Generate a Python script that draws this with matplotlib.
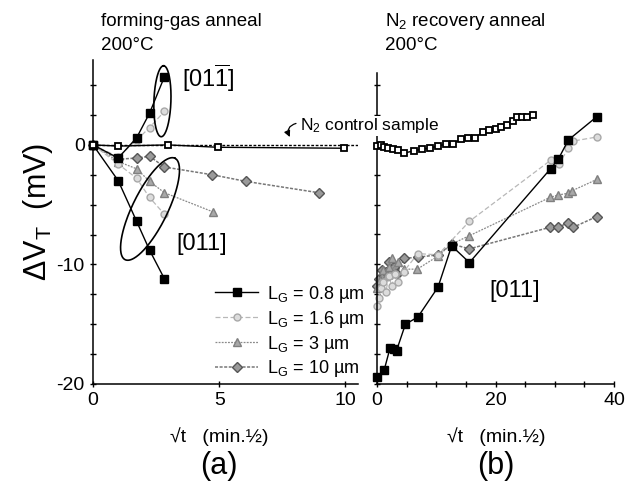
import matplotlib.pyplot as plt
import numpy as np
from matplotlib.ticker import MultipleLocator, FixedLocator

plt.rcParams['font.family'] = ['Liberation Sans', 'DejaVu Sans']
plt.rcParams['mathtext.fontset'] = 'custom'
plt.rcParams['mathtext.rm'] = 'Liberation Sans'
plt.rcParams['mathtext.it'] = 'Liberation Sans:italic'
plt.rcParams['mathtext.bf'] = 'Liberation Sans:bold'
plt.rcParams['axes.unicode_minus'] = False

# ---- (a) forming-gas anneal, x = sqrt(t) in min^1/2
fg_x = [0, 1.0, 1.73, 2.24, 2.83]
fg_08_bar = [0, -1.1, 0.6, 2.65, 5.7]      # [01-1]
fg_16_bar = [0, -1.0, 0.4, 1.45, 2.8]      # [01-1]
fg_08 = [0, -3.0, -6.4, -8.8, -11.2]       # [011]
fg_16 = [0, -1.6, -2.8, -4.4, -5.8]        # [011]
fg_x3 = [0, 1.0, 1.73, 2.24, 2.83, 4.75]
fg_3 = [0, -1.4, -2.0, -3.05, -4.0, -5.6]
fg_x10 = [0, 1.0, 1.73, 2.24, 2.83, 4.73, 6.05, 8.94]
fg_10 = [0, -1.2, -1.1, -0.95, -1.85, -2.5, -3.05, -4.0]
fg_xn2 = [0, 1.0, 2.96, 4.95, 9.93]
fg_n2 = [0, -0.1, 0, -0.2, -0.28]

# ---- (b) N2 recovery anneal
rc_xn2 = [0, 0.6, 1.1, 1.9, 2.7, 3.6, 4.6, 6.2, 7.6, 8.9, 10.3, 11.6, 12.9, 14.2,
          15.4, 16.6, 17.9, 18.9, 20.0, 21.0, 21.9, 22.9, 23.7, 24.5, 25.3, 26.3]
rc_n2 = [-0.1, -0.05, -0.15, -0.3, -0.35, -0.45, -0.7, -0.5, -0.36, -0.28, -0.1, 0.05,
         0.1, 0.5, 0.55, 0.6, 1.1, 1.2, 1.3, 1.45, 1.65, 1.95, 2.3, 2.35, 2.35, 2.5]
rc_x08 = [0, 1.2, 2.2, 2.9, 3.3, 4.8, 6.9, 10.3, 12.6, 15.6, 29.3, 30.6, 32.3, 37.1]
rc_08 = [-19.4, -18.85, -17.0, -17.1, -17.2, -15.0, -14.4, -11.9, -8.45, -9.85,
         -2.0, -1.2, 0.4, 2.35]
rc_x16 = [0, 0.3, 0.6, 1.0, 1.5, 2.0, 2.5, 3.0, 3.5, 4.5, 6.9, 10.3, 15.6,
          29.3, 30.7, 32.3, 33.0, 37.1]
rc_16 = [-13.5, -12.8, -12.0, -11.5, -12.3, -11.0, -11.8, -10.8, -11.5, -10.6,
         -9.1, -9.2, -6.4, -1.3, -1.6, -0.3, 0.3, 0.65]
rc_x3 = [0, 0.5, 1.0, 1.5, 2.0, 2.5, 3.0, 3.5, 4.5, 6.8, 10.3, 12.6, 15.6,
         29.2, 30.6, 32.3, 32.9, 37.1]
rc_3 = [-12.0, -11.3, -10.5, -11.0, -10.2, -9.5, -10.7, -9.8, -10.4, -10.4,
        -9.3, -8.3, -7.6, -4.4, -4.2, -4.05, -3.85, -2.9]
rc_x10 = [0, 0.4, 0.8, 1.2, 1.6, 2.0, 2.4, 2.9, 3.3, 4.6, 6.9, 10.3, 12.6, 15.6,
          29.2, 30.6, 32.3, 33.1, 37.1]
rc_10 = [-11.8, -11.2, -10.5, -11.0, -10.6, -9.8, -10.8, -10.2, -10.8, -9.5,
         -9.4, -9.2, -8.3, -8.7, -6.9, -6.9, -6.5, -6.9, -6.0]

labels = [r'L$_\mathrm{G}$ = 0.8 µm', r'L$_\mathrm{G}$ = 1.6 µm',
          r'L$_\mathrm{G}$ = 3 µm', r'L$_\mathrm{G}$ = 10 µm']

# series styles
s08 = dict(color='black', lw=1.0, ls='-', marker='s', ms=5.5, mfc='black', mec='black')
s16 = dict(color='#b8b8b8', lw=0.9, ls=(0, (4, 2)), marker='o', ms=5, mfc='#dcdcdc', mec='#a8a8a8')
s3 = dict(color='#8a8a8a', lw=0.9, ls=(0, (1.5, 1)), marker='^', ms=5.5, mfc='#a8a8a8', mec='#808080')
s10 = dict(color='#777777', lw=1.1, ls=(0, (2, 1)), marker='D', ms=5, mfc='#9a9a9a', mec='#555555')
sn2 = dict(color='black', lw=1.0, ls='-', marker='s', ms=5, mfc='white', mec='black', mew=1.3)

W, H = 628, 491
fig = plt.figure(figsize=(W / 100, H / 100), dpi=100)
ax1 = fig.add_axes([93 / W, 1 - 384 / H, (358 - 93) / W, (384 - 60) / H])
ax2 = fig.add_axes([377 / W, 1 - 384 / H, (614 - 377) / W, (384 - 73) / H])

ax1.set_xlim(0, 10.5)
ax1.set_ylim(-20, 7.1)
ax2.set_xlim(0, 40)
ax2.set_ylim(-20, 6.0)

ax1.axhline(0, color='black', lw=1.0, ls=(0, (2, 1.2)), zorder=1)
ax1.plot(fg_xn2, fg_n2, **sn2, clip_on=False, zorder=3)
ax1.plot(fg_x10, fg_10, **s10, clip_on=False)
ax1.plot(fg_x3, fg_3, **s3, clip_on=False)
ax1.plot(fg_x, fg_16, **s16, clip_on=False)
ax1.plot(fg_x, fg_16_bar, **s16, clip_on=False)
ax1.plot(fg_x, fg_08, **s08, clip_on=False)
ax1.plot(fg_x, fg_08_bar, **s08, clip_on=False)

ax2.plot(rc_xn2, rc_n2, **sn2, clip_on=False, zorder=3)
h10, = ax2.plot(rc_x10, rc_10, **s10, clip_on=False)
h3, = ax2.plot(rc_x3, rc_3, **s3, clip_on=False)
h16, = ax2.plot(rc_x16, rc_16, **s16, clip_on=False)
h08, = ax2.plot(rc_x08, rc_08, **s08, clip_on=False)

for ax in (ax1, ax2):
    for side in ('top', 'right'):
        ax.spines[side].set_visible(False)
    for side in ('left', 'bottom'):
        ax.spines[side].set_linewidth(1.1)
    ax.yaxis.set_major_locator(FixedLocator([-20, -10, 0]))
    ax.yaxis.set_minor_locator(MultipleLocator(2.5))
    ax.tick_params(which='both', direction='inout', length=5, width=1, labelsize=14)

ax1.xaxis.set_major_locator(FixedLocator([0, 5, 10]))
ax2.xaxis.set_major_locator(FixedLocator([0, 20, 40]))
ax2.xaxis.set_minor_locator(MultipleLocator(5))
ax2.tick_params(axis='y', labelleft=False)
ax2.tick_params(axis='x', which='minor', length=4)


def ellipse(ax, cx, cy, w, h, ang):
    # w, h and angle in pixels, centre in data units
    t = np.linspace(0, 2 * np.pi, 200)
    a = np.deg2rad(ang)
    dx = w / 2 * np.cos(t) * np.cos(a) - h / 2 * np.sin(t) * np.sin(a)
    dy = w / 2 * np.cos(t) * np.sin(a) + h / 2 * np.sin(t) * np.cos(a)
    c = ax.transData.transform((cx, cy))
    p = ax.transData.inverted().transform(np.column_stack([c[0] + dx, c[1] + dy]))
    ax.plot(p[:, 0], p[:, 1], color='black', lw=1.2, clip_on=False)


ellipse(ax1, 2.75, 3.65, 71, 17, 88)
ellipse(ax1, 2.26, -5.36, 113, 35, 63.8)

ax1.text(4.56, 5.6, r'[01$\overline{\mathrm{1}}$]', fontsize=17, ha='center', va='center')
ax1.text(4.31, -8.3, '[011]', fontsize=17, ha='center', va='center')
ax2.text(23.3, -12.2, '[011]', fontsize=17, ha='center', va='center')

# control sample label with curved arrow
ax1.annotate('', xy=(7.85, 0.45), xytext=(8.15, 1.85),
             arrowprops=dict(arrowstyle='-|>', connectionstyle='arc3,rad=0.7',
                             lw=0.9, color='black', mutation_scale=9))
fig.text(8.2, 1.6, r'N$_2$ control sample', transform=ax1.transData, fontsize=12.5,
         ha='left', va='center', zorder=10,
         bbox=dict(facecolor='white', edgecolor='none', pad=0.5))

ax1.legend([h08, h16, h3, h10], labels, loc='upper left', bbox_to_anchor=(0.46, 0.31),
           frameon=False, fontsize=13, borderpad=0, borderaxespad=0,
           handlelength=2.4, handletextpad=0.5, labelspacing=0.22)

fig.text(101 / W, 1 - 21 / H, 'forming-gas anneal', fontsize=13.5, va='center')
fig.text(101 / W, 1 - 45 / H, '200°C', fontsize=13.5, va='center')
fig.text(385 / W, 1 - 22 / H, r'N$_2$ recovery anneal', fontsize=13.5, va='center')
fig.text(385 / W, 1 - 45 / H, '200°C', fontsize=13.5, va='center')

fig.text(38 / W, 1 - 212 / H, r'$\Delta$V$_\mathrm{T}$  (mV)', fontsize=22,
         rotation=90, ha='center', va='center')
fig.text(219 / W, 1 - 437 / H, '√t   (min.½)', fontsize=14, ha='center', va='center')
fig.text(496 / W, 1 - 437 / H, '√t   (min.½)', fontsize=14, ha='center', va='center')
fig.text(219 / W, 1 - 466 / H, '(a)', fontsize=22, ha='center', va='center')
fig.text(496 / W, 1 - 466 / H, '(b)', fontsize=22, ha='center', va='center')

fig.savefig('out.png', dpi=100)
